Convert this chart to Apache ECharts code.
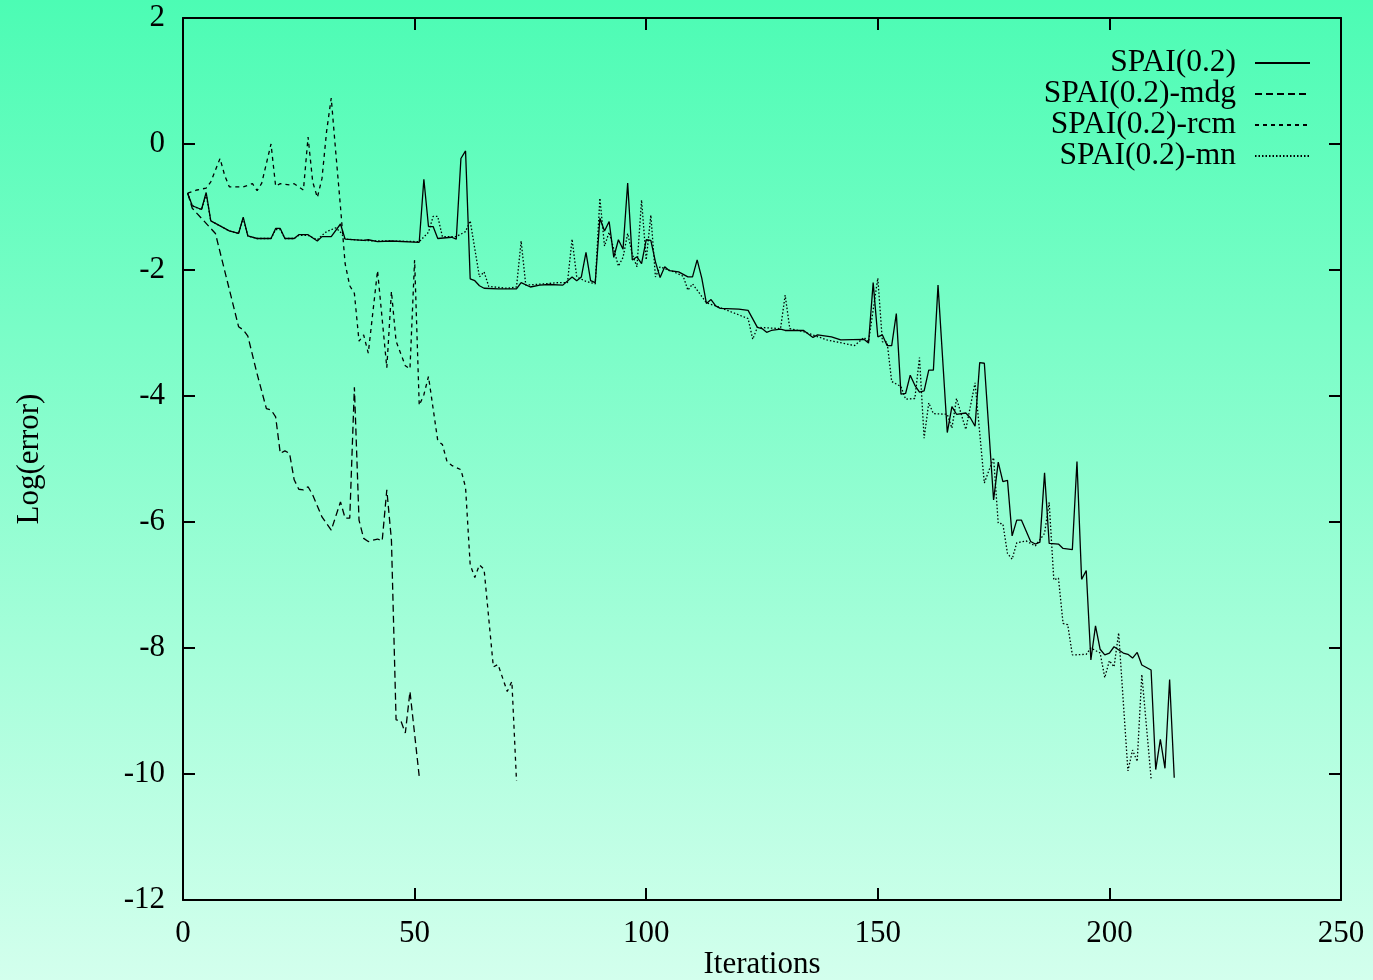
<!DOCTYPE html>
<html>
<head>
<meta charset="utf-8">
<script src="https://cdn.jsdelivr.net/npm/echarts@6/dist/echarts.min.js"></script>
<style>
html,body{margin:0;padding:0;}
#chart{width:1373px;height:980px;}
</style>
</head>
<body>
<div id="chart"></div>
<script>
// ---- Data ----
const seriesNames = ['SPAI(0.2)', 'SPAI(0.2)-mdg', 'SPAI(0.2)-rcm', 'SPAI(0.2)-mn'];

const spaiX = [1,2,4,5,6,10,12,13,14,16,19,20,21,22,24,25,27,29,30,32,34,35,39,40,42,45,51,52,53,54,55,58,59,60,61,62,63,64,65,68,72,73,75,77,79,82,84,85,86,87,88,89,90,91,92,93,94,95,96,97,98,99,100,101,102,103,104,105,107,109,110,111,112,113,114,115,116,120,122,124,125,126,127,129,130,134,136,137,140,142,147,148,149,150,151,152,153,154,155,156,157,158,159,160,161,162,163,165,166,167,169,170,171,172,173,175,176,177,178,179,180,181,183,184,185,186,187,189,190,192,193,194,195,196,197,198,199,200,201,203,204,205,206,207,209,210,211,212,213,214];
const spaiY = [-0.78,-0.98,-1.04,-0.77,-1.22,-1.38,-1.42,-1.16,-1.46,-1.50,-1.50,-1.34,-1.34,-1.50,-1.50,-1.44,-1.44,-1.54,-1.47,-1.47,-1.27,-1.51,-1.53,-1.52,-1.55,-1.54,-1.56,-0.56,-1.31,-1.31,-1.50,-1.48,-1.51,-0.23,-0.11,-2.14,-2.17,-2.25,-2.29,-2.30,-2.30,-2.20,-2.27,-2.24,-2.23,-2.24,-2.11,-2.17,-2.11,-1.72,-2.17,-2.20,-1.18,-1.38,-1.23,-1.80,-1.52,-1.67,-0.62,-1.84,-1.79,-1.90,-1.52,-1.53,-1.87,-2.12,-1.95,-2.01,-2.03,-2.11,-2.11,-1.84,-2.13,-2.53,-2.47,-2.57,-2.61,-2.62,-2.64,-2.91,-2.93,-2.99,-2.96,-2.94,-2.96,-2.96,-3.07,-3.03,-3.06,-3.11,-3.10,-3.16,-2.20,-3.06,-3.03,-3.20,-3.20,-2.69,-3.97,-3.96,-3.67,-3.83,-3.94,-3.92,-3.59,-3.59,-2.24,-4.58,-4.17,-4.29,-4.27,-4.35,-4.48,-3.47,-3.48,-5.65,-5.05,-5.36,-5.34,-6.22,-5.97,-5.97,-6.31,-6.35,-6.32,-5.22,-6.34,-6.35,-6.42,-6.44,-5.04,-6.91,-6.77,-8.19,-7.65,-8.02,-8.11,-8.08,-7.98,-8.08,-8.10,-8.16,-8.07,-8.27,-8.35,-9.93,-9.45,-9.91,-8.50,-10.06];

const mdgX = [1,2,7,12,13,14,16,18,19,20,21,22,23,24,25,26,27,28,30,32,34,35,36,37,38,39,40,42,43,44,45,46,47,48,49,51];
const mdgY = [-0.78,-1.02,-1.42,-2.90,-2.95,-3.05,-3.65,-4.20,-4.22,-4.33,-4.91,-4.87,-4.91,-5.33,-5.48,-5.49,-5.44,-5.57,-5.92,-6.13,-5.68,-5.94,-5.94,-3.86,-5.97,-6.26,-6.31,-6.27,-6.30,-5.49,-6.29,-9.14,-9.15,-9.35,-8.69,-10.04];

const rcmX = [1,3,5,6,8,9,10,13,15,16,17,19,20,21,23,24,26,27,28,29,30,31,32,33,34,35,36,37,38,39,40,42,44,45,46,48,49,50,51,52,53,55,56,57,58,60,61,62,63,64,65,67,68,70,71,72];
const rcmY = [-0.78,-0.73,-0.70,-0.60,-0.23,-0.50,-0.68,-0.68,-0.63,-0.74,-0.62,0.00,-0.67,-0.63,-0.65,-0.63,-0.73,0.11,-0.60,-0.85,-0.55,0.20,0.73,-0.15,-1.00,-1.90,-2.25,-2.37,-3.13,-3.03,-3.32,-2.01,-3.55,-2.34,-3.13,-3.52,-3.57,-1.84,-4.15,-3.98,-3.69,-4.71,-4.77,-5.04,-5.10,-5.17,-5.45,-6.68,-6.88,-6.68,-6.75,-8.30,-8.26,-8.69,-8.53,-10.11];

const mnX = [1,2,4,5,6,10,12,13,14,16,19,20,21,22,24,25,27,29,30,31,33,34,35,39,42,45,51,53,54,55,56,59,61,62,64,65,66,70,72,73,74,78,81,83,84,85,87,89,90,91,92,94,95,96,97,98,99,100,101,102,103,106,108,109,110,113,115,122,123,124,129,130,131,134,139,145,147,148,150,151,152,153,155,156,158,159,160,161,162,165,166,167,169,171,173,175,176,177,178,179,180,182,184,186,187,188,189,190,191,192,195,196,198,199,200,201,202,204,205,206,207,209];
const mnY = [-0.78,-0.98,-1.04,-0.80,-1.22,-1.38,-1.42,-1.18,-1.46,-1.50,-1.50,-1.36,-1.36,-1.50,-1.50,-1.45,-1.45,-1.52,-1.45,-1.39,-1.33,-1.40,-1.51,-1.53,-1.54,-1.54,-1.55,-1.40,-1.15,-1.15,-1.47,-1.47,-1.39,-1.22,-2.11,-2.03,-2.26,-2.29,-2.27,-1.54,-2.24,-2.22,-2.20,-2.20,-1.51,-2.11,-2.18,-2.22,-0.86,-1.62,-1.40,-1.94,-1.80,-1.42,-1.75,-1.95,-0.89,-1.84,-1.13,-2.11,-1.95,-2.03,-2.10,-2.32,-2.22,-2.52,-2.57,-2.77,-3.10,-2.91,-2.93,-2.40,-2.93,-2.98,-3.11,-3.20,-3.07,-3.14,-2.13,-3.14,-3.14,-3.77,-3.85,-4.05,-4.04,-3.39,-4.67,-4.11,-4.28,-4.29,-4.51,-4.04,-4.53,-3.79,-5.38,-4.98,-6.02,-6.03,-6.50,-6.59,-6.33,-6.30,-6.38,-6.18,-5.69,-6.92,-6.89,-7.61,-7.63,-8.11,-8.10,-8.00,-8.08,-8.47,-8.20,-8.30,-7.76,-9.95,-9.62,-9.80,-8.42,-10.07];

const xTicks = {min: 0, max: 250, interval: 50};
const yTicks = {min: -12, max: 2, interval: 2};

// ---- Chart ----
const zip = (xs, ys) => xs.map((x, i) => [x, ys[i]]);
const FONT = '"Liberation Serif", "DejaVu Serif", serif';
const dashes = ['solid', [7, 4], [4, 4], [1.5, 2]];
const dataSets = [zip(spaiX, spaiY), zip(mdgX, mdgY), zip(rcmX, rcmY), zip(mnX, mnY)];

const chart = echarts.init(document.getElementById('chart'));
const axisLine = {show: true, onZero: false, lineStyle: {color: '#000', width: 2}};
const axisTick = {show: true, inside: true, length: 12, lineStyle: {color: '#000', width: 2}};
const labelStyle = {color: '#000', fontFamily: FONT, fontSize: 31};

const legends = seriesNames.map((n, i) => ({
  data: [n],
  right: 57,
  top: 42 + i * 31,
  orient: 'vertical',
  align: 'right',
  itemWidth: 55,
  itemHeight: 14,
  itemStyle: {opacity: 0},
  textStyle: {color: '#000', fontFamily: FONT, fontSize: 31.5, padding: [0, 14, 0, 0]},
  selectedMode: false
}));

chart.setOption({
  backgroundColor: new echarts.graphic.LinearGradient(0, 0, 0, 1, [
    {offset: 0, color: '#4cfcb4'},
    {offset: 1, color: '#d3ffed'}
  ]),
  animation: false,
  grid: {left: 183, right: 32, top: 18, bottom: 80, containLabel: false, outerBoundsMode: 'none'},
  legend: legends,
  xAxis: [
    {type: 'value', min: xTicks.min, max: xTicks.max, interval: xTicks.interval,
     name: 'Iterations', nameLocation: 'middle', nameGap: 65, nameMoveOverlap: false,
     nameTextStyle: Object.assign({verticalAlign: 'middle', lineHeight: 31}, labelStyle),
     axisLine, axisTick, splitLine: {show: false},
     axisLabel: Object.assign({margin: 18}, labelStyle)},
    {type: 'value', position: 'top', min: xTicks.min, max: xTicks.max, interval: xTicks.interval,
     axisLine, axisTick, splitLine: {show: false}, axisLabel: {show: false}}
  ],
  yAxis: [
    {type: 'value', min: yTicks.min, max: yTicks.max, interval: yTicks.interval,
     name: 'Log(error)', nameLocation: 'middle', nameGap: 138, nameRotate: 90, nameMoveOverlap: false,
     nameTextStyle: labelStyle,
     axisLine, axisTick, splitLine: {show: false},
     axisLabel: Object.assign({margin: 18}, labelStyle)},
    {type: 'value', position: 'right', min: yTicks.min, max: yTicks.max, interval: yTicks.interval,
     axisLine, axisTick, splitLine: {show: false}, axisLabel: {show: false}}
  ],
  series: seriesNames.map((n, i) => ({
    name: n,
    type: 'line',
    xAxisIndex: 0,
    yAxisIndex: 0,
    data: dataSets[i],
    symbol: 'none',
    showSymbol: false,
    lineStyle: {color: '#000', width: 1.3, type: dashes[i]},
    itemStyle: {color: '#000'}
  }))
});
</script>
</body>
</html>
